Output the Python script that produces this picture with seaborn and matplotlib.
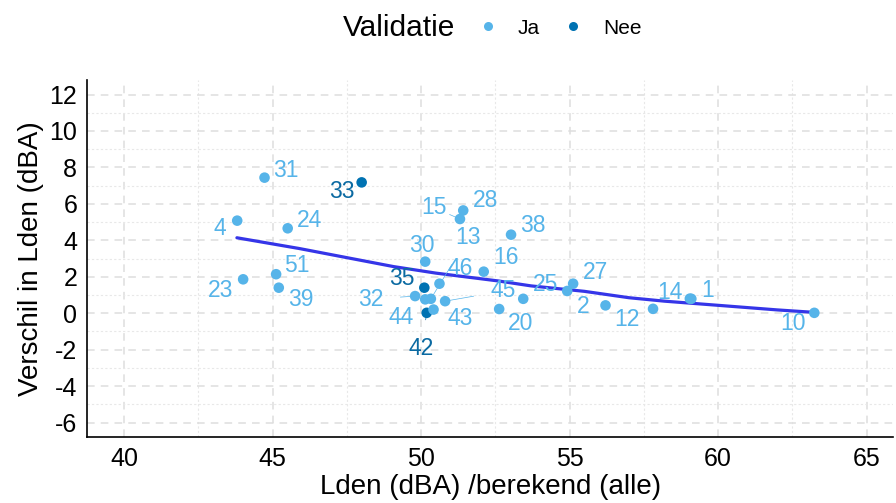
import numpy as np
import pandas as pd
import matplotlib
matplotlib.use('Agg')
import matplotlib.pyplot as plt
from matplotlib.lines import Line2D
from matplotlib.ticker import MultipleLocator
import seaborn as sns

## data
ids = ['31', '33', '4', '24', '23', '51', '39', '28', '15', '38', '13', '30', '16',
       '46', '35', '32', '44', '42', '43', '45', '20', '', '25', '27', '2', '12',
       '14', '1', '10']
lden = [44.73, 48.00, 43.81, 45.51, 44.01, 45.12, 45.21, 51.42, 51.31, 53.03, 50.33,
        50.14, 52.11, 50.62, 50.11, 49.80, 50.14, 50.19, 50.42, 50.81, 53.44, 52.63,
        54.92, 55.12, 56.21, 57.81, 59.05, 59.10, 63.24]
verschil = [7.44, 7.18, 5.08, 4.66, 1.86, 2.14, 1.40, 5.64, 5.17, 4.31, 0.79,
            2.83, 2.28, 1.62, 1.40, 0.94, 0.76, 0.02, 0.20, 0.66, 0.79, 0.23,
            1.22, 1.62, 0.43, 0.24, 0.80, 0.79, 0.02]
validatie = ['Ja', 'Nee', 'Ja', 'Ja', 'Ja', 'Ja', 'Ja', 'Ja', 'Ja', 'Ja', 'Ja',
             'Ja', 'Ja', 'Ja', 'Nee', 'Ja', 'Ja', 'Nee', 'Ja', 'Ja', 'Ja', 'Ja',
             'Ja', 'Ja', 'Ja', 'Ja', 'Ja', 'Ja', 'Ja']

## smoothed trend line
smooth_x = [43.8, 45.9, 47.5, 49.07, 50.5, 52.6, 53.7, 55.5, 57.0, 58.2, 60.5, 62.0, 63.2]
smooth_y = [4.14, 3.55, 3.05, 2.56, 2.20, 1.77, 1.50, 1.20, 0.85, 0.66, 0.37, 0.18, 0.05]

df = pd.DataFrame({'id': ids, 'lden': lden, 'verschil': verschil, 'Validatie': validatie})

palette = {'Ja': '#56B4E9', 'Nee': '#0072B2'}
label_colors = {'Ja': '#56B4E9', 'Nee': '#0b6aa2'}

## label placement (data coords) and whether a connector is drawn
label_pos = {
    '31': (45.44, 7.85, False), '33': (47.33, 6.69, False), '4': (43.23, 4.64, False),
    '24': (46.25, 5.08, False), '23': (43.26, 1.22, False), '51': (45.81, 2.60, False),
    '39': (45.95, 0.77, False), '28': (52.16, 6.19, False), '15': (50.42, 5.80, True),
    '38': (53.78, 4.81, False), '13': (51.59, 4.14, True), '30': (50.01, 3.70, False),
    '16': (52.87, 3.04, False), '46': (51.32, 2.43, False), '35': (49.34, 1.93, False),
    '32': (48.30, 0.77, True), '44': (49.34, -0.22, False), '42': (50.01, -1.93, True),
    '43': (51.32, -0.28, False), '45': (52.77, 1.22, True), '20': (53.34, -0.55, False),
    '25': (54.18, 1.60, False), '27': (55.86, 2.21, False), '2': (55.46, 0.39, False),
    '12': (56.94, -0.33, False), '14': (58.38, 1.16, False), '1': (59.66, 1.22, False),
    '10': (62.51, -0.55, False),
}

sns.set_style('white')
plt.rcParams['font.family'] = ['Liberation Sans', 'DejaVu Sans']
plt.rcParams['axes.unicode_minus'] = False
plt.rcParams['text.color'] = 'black'
plt.rcParams['axes.labelcolor'] = 'black'

fig = plt.figure(figsize=(8.96, 5.03), dpi=100)
ax = fig.add_axes([0.097, 0.131, 0.900, 0.710])

## grid
ax.xaxis.set_minor_locator(MultipleLocator(2.5))
ax.yaxis.set_minor_locator(MultipleLocator(1))
ax.grid(which='major', color='#dedede', linestyle=(0, (5, 4)), linewidth=1.1)
ax.grid(which='minor', color='#e8e8e8', linestyle=(0, (2, 2)), linewidth=0.8)
ax.set_axisbelow(True)

sns.lineplot(x=smooth_x, y=smooth_y, color='#3535e8', linewidth=2.3, ax=ax, zorder=2)
sns.scatterplot(data=df, x='lden', y='verschil', hue='Validatie', palette=palette,
                s=58, edgecolor='none', legend=False, ax=ax, zorder=3)

for _, r in df.iterrows():
    if r['id'] == '':
        continue
    lx, ly, seg = label_pos[r['id']]
    col = label_colors[r['Validatie']]
    if seg:
        ax.annotate(r['id'], xy=(r['lden'], r['verschil']), xytext=(lx, ly),
                    ha='center', va='center', fontsize=16.5, color=col,
                    arrowprops=dict(arrowstyle='-', color=col, lw=0.5,
                                    shrinkA=10, shrinkB=3))
    else:
        ax.text(lx, ly, r['id'], ha='center', va='center', fontsize=16.5, color=col)

ax.set_xlim(38.75, 65.9)
ax.set_ylim(-6.8, 12.8)
ax.set_xticks([40, 45, 50, 55, 60, 65])
ax.set_yticks(np.arange(-6, 13, 2))
ax.tick_params(which='major', labelsize=18, length=4, width=1, color='#333333',
               labelcolor='black', pad=3)
ax.tick_params(which='minor', length=0)
for side in ['top', 'right']:
    ax.spines[side].set_visible(False)
for side in ['left', 'bottom']:
    ax.spines[side].set_color('black')
    ax.spines[side].set_linewidth(1.2)

ax.set_xlabel('Lden (dBA) /berekend (alle)', fontsize=20, labelpad=2, color='black')
ax.set_ylabel('Verschil in Lden (dBA)', fontsize=20, labelpad=4, color='black')

## legend on top
fig.text(0.508, 0.944, 'Validatie', fontsize=21.5, ha='right', va='center', color='black')
handles = [Line2D([], [], marker='o', linestyle='', markersize=6.5,
                  markerfacecolor=palette[k], markeredgecolor='none') for k in ['Ja', 'Nee']]
leg = fig.legend(handles, ['Ja', 'Nee'], loc='center left', bbox_to_anchor=(0.535, 0.944),
                 ncol=2, frameon=False, fontsize=15, handletextpad=1.05, columnspacing=1.2,
                 handlelength=0.8, borderpad=0, borderaxespad=0)
for t in leg.get_texts():
    t.set_color('black')

fig.savefig('out.png', dpi=100)
